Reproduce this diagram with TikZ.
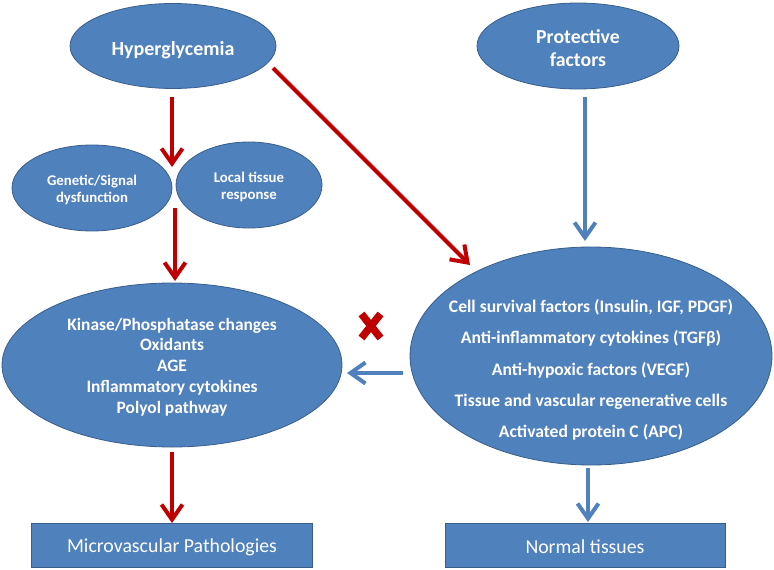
\documentclass[tikz,border=0pt]{standalone}
\usepackage{fontspec}
\setmainfont{Carlito}
\usetikzlibrary{shapes.geometric,arrows.meta,calc}
\definecolor{fillblue}{HTML}{4F81BD}
\definecolor{edgeblue}{HTML}{385D8A}
\definecolor{arrred}{HTML}{C00000}
\begin{document}
\begin{tikzpicture}[x=1pt,y=-1pt,
  oval/.style={ellipse,draw=edgeblue,fill=fillblue,line width=0.8pt,inner sep=0pt},
  bx/.style={rectangle,draw=edgeblue,fill=fillblue,line width=0.8pt,inner sep=0pt},
  txt/.style={text=white,align=center,inner sep=0pt},
  redarr/.style={draw=arrred,line width=4pt,-{Straight Barb[length=15pt,width=21pt]}},
  bluearr/.style={draw=fillblue,line width=4pt,-{Straight Barb[length=15pt,width=21pt]}}]
\useasboundingbox (0,0) rectangle (774,570);
\fill[white] (0,0) rectangle (774,570);
% shapes
\node[oval,minimum width=206pt,minimum height=85pt] (hyper) at (173,46) {};
\node[oval,minimum width=202pt,minimum height=86pt] (prot) at (578,46) {};
\node[oval,minimum width=160pt,minimum height=86pt] (gen) at (92,188) {};
\node[oval,minimum width=146pt,minimum height=86pt] (loc) at (249,185) {};
\node[oval,minimum width=340pt,minimum height=164pt] (kin) at (172,365) {};
\node[oval,minimum width=362pt,minimum height=218pt] (surv) at (591,356) {};
\node[bx,minimum width=281pt,minimum height=44pt] (micro) at (172,545) {};
\node[bx,minimum width=280pt,minimum height=44pt] (norm) at (585,545) {};
% texts
\node[txt,font=\bfseries\fontsize{20}{24}\selectfont] (hypert) at (173,50) {Hyperglycemia};
\node[txt,font=\bfseries\fontsize{19.8}{23}\selectfont] (prott) at (578,48.5) {Protective\\factors};
\node[txt,font=\bfseries\fontsize{14.8}{17}\selectfont] (gent) at (92,190) {Genetic/Signal\\dysfunction};
\node[txt,font=\bfseries\fontsize{14.8}{17}\selectfont] (loct) at (249,187) {Local tissue\\response};
\node[txt,font=\bfseries\fontsize{17.4}{20.8}\selectfont] (kint) at (172,367) {Kinase/Phosphatase changes\\Oxidants\\AGE\\Inflammatory cytokines\\Polyol pathway};
\node[txt,font=\bfseries\fontsize{17.6}{31.3}\selectfont] (survt) at (591,370) {Cell survival factors (Insulin, IGF, PDGF)\\Anti-inflammatory cytokines (TGFβ)\\Anti-hypoxic factors (VEGF)\\Tissue and vascular regenerative cells\\Activated protein C (APC)};
\node[txt,font=\fontsize{19.8}{22}\selectfont] (microt) at (172,547) {Microvascular Pathologies};
\node[txt,font=\fontsize{19.8}{22}\selectfont] (normt) at (585,547) {Normal tissues};
% connector ends
\coordinate (j0) at (172,97);
\coordinate (j1) at (172,167);
\coordinate (j2) at (175,208);
\coordinate (j3) at (175,281);
\coordinate (d1) at (273,68);
\coordinate (d2) at (470,265);
\coordinate (p1) at (585,97);
\coordinate (p2) at (585,241);
\coordinate (k1) at (403,373);
\coordinate (k2) at (347,373);
\coordinate (m1) at (172,452);
\coordinate (m2) at (172,523);
\coordinate (n1) at (588,468);
\coordinate (n2) at (588,522);
\coordinate (xc) at (371,326);
\draw[redarr] (j0) -- (j1);
\draw[redarr] (j2) -- (j3);
\draw[redarr] (d1) -- (d2);
\draw[redarr] (m1) -- (m2);
\draw[bluearr] (p1) -- (p2);
\draw[bluearr] (k1) -- (k2);
\draw[bluearr] (n1) -- (n2);
\draw[arrred,line width=7.5pt] ($(xc)+(-9.5,-12)$) -- ($(xc)+(9.5,12)$) ($(xc)+(9.5,-12)$) -- ($(xc)+(-9.5,12)$);
\end{tikzpicture}
\end{document}
